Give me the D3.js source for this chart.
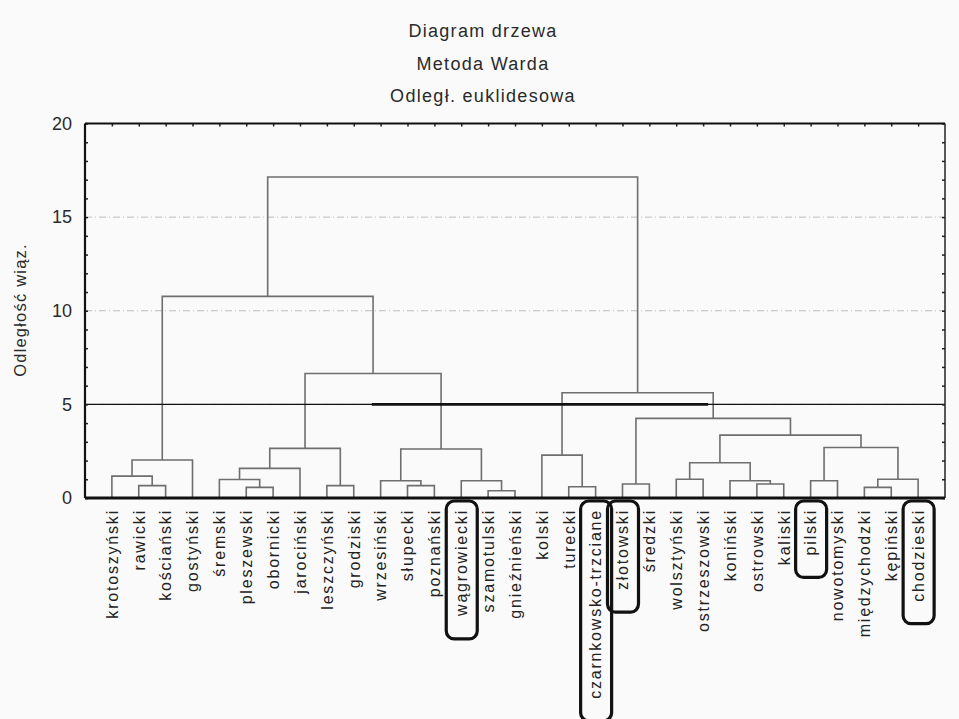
<!DOCTYPE html>
<html>
<head>
<meta charset="utf-8">
<script src="https://cdn.jsdelivr.net/npm/d3@7"></script>
<style>
  body { margin: 0; background: #fafafa; }
  svg { display: block; font-family: "Liberation Sans", Arial, sans-serif; }
</style>
</head>
<body>
<div id="chart"></div>
<script>
// titles
const titleLines = ["Diagram drzewa", "Metoda Warda", "Odległ. euklidesowa"];
const yLabelText = "Odległość wiąz.";

// leaves in dendrogram order
const leaves = ["krotoszyński", "rawicki", "kościański", "gostyński", "śremski",
  "pleszewski", "obornicki", "jarociński", "leszczyński", "grodziski",
  "wrzesiński", "słupecki", "poznański", "wągrowiecki", "szamotulski",
  "gnieźnieński", "kolski", "turecki", "czarnkowsko-trzciane", "złotowski",
  "średzki", "wolsztyński", "ostrzeszowski", "koniński", "ostrowski",
  "kaliski", "pilski", "nowotomyski", "międzychodzki", "kępiński", "chodzieski"];

// merges: [left, right, linkage distance]; numbers refer to earlier merges
const merges = [
  ["rawicki", "kościański", 0.66],        // 0
  ["krotoszyński", 0, 1.17],              // 1
  [1, "gostyński", 2.03],                 // 2
  ["pleszewski", "obornicki", 0.57],      // 3
  ["śremski", 3, 0.99],                   // 4
  [4, "jarociński", 1.58],                // 5
  ["leszczyński", "grodziski", 0.66],     // 6
  [5, 6, 2.65],                           // 7
  ["słupecki", "poznański", 0.66],        // 8
  ["wrzesiński", 8, 0.92],                // 9
  ["szamotulski", "gnieźnieński", 0.39],  // 10
  ["wągrowiecki", 10, 0.92],              // 11
  [9, 11, 2.62],                          // 12
  [7, 12, 6.65],                          // 13
  [2, 13, 10.77],                         // 14
  ["turecki", "czarnkowsko-trzciane", 0.6], // 15
  ["kolski", 15, 2.29],                   // 16
  ["złotowski", "średzki", 0.75],         // 17
  ["wolsztyński", "ostrzeszowski", 1.0],  // 18
  ["ostrowski", "kaliski", 0.75],         // 19
  ["koniński", 19, 0.92],                 // 20
  [18, 20, 1.88],                         // 21
  ["pilski", "nowotomyski", 0.92],        // 22
  ["międzychodzki", "kępiński", 0.57],    // 23
  [23, "chodzieski", 1.0],                // 24
  [22, 24, 2.7],                          // 25
  [21, 25, 3.36],                         // 26
  [17, 26, 4.25],                         // 27
  [16, 27, 5.62],                         // 28
  [14, 28, 17.14]                         // 29
];

// cut level and the circled units
const cutLevel = 5;
const cutBold = ["grodziski", "ostrzeszowski"];
const circled = ["wągrowiecki", "czarnkowsko-trzciane", "złotowski", "pilski", "chodzieski"];

const yTicks = [0, 5, 10, 15, 20];
const gridTicks = [5, 10, 15];

// layout
const W = 959, H = 719;
const margin = { left: 85, right: 14, top: 123.5, bottom: 221 };
const width = W - margin.left - margin.right;
const height = H - margin.top - margin.bottom;

const svg = d3.select("#chart").append("svg")
  .attr("width", W)
  .attr("height", H);

// titles
svg.selectAll("text.title")
  .data(titleLines)
  .enter().append("text")
    .attr("class", "title")
    .attr("x", 483)
    .attr("y", (d, i) => 37 + i * 32.5)
    .attr("text-anchor", "middle")
    .attr("font-size", "18px")
    .attr("letter-spacing", "1.3px")
    .attr("fill", "#2a2a2a")
    .text(d => d);

const g = svg.append("g")
  .attr("transform", "translate(" + margin.left + "," + margin.top + ")");

// scales
const x = d3.scalePoint().domain(leaves).range([0, width]).padding(1);
const y = d3.scaleLinear().domain([0, 20]).range([height, 0]);

// grid lines (dash-dot)
g.selectAll("line.grid")
  .data(gridTicks)
  .enter().append("line")
    .attr("class", "grid")
    .attr("x1", 0).attr("x2", width)
    .attr("y1", d => y(d)).attr("y2", d => y(d))
    .attr("stroke", "#bdbdbd")
    .attr("stroke-width", 1)
    .attr("stroke-dasharray", "7,3,1,3");

// build node positions
const nodes = merges.map(() => null);
function pos(ref) {
  if (typeof ref === "string") return { x: x(ref), h: 0 };
  return nodes[ref];
}
const links = [];
merges.forEach(function(m, i) {
  const a = pos(m[0]), b = pos(m[1]);
  nodes[i] = { x: (a.x + b.x) / 2, h: m[2] };
  links.push({ a: a, b: b, h: m[2] });
});

// dendrogram
g.selectAll("path.link")
  .data(links)
  .enter().append("path")
    .attr("class", "link")
    .attr("fill", "none")
    .attr("stroke", "#6e6e6e")
    .attr("stroke-width", 1.6)
    .attr("d", d => "M" + d.a.x + "," + y(d.a.h) + "V" + y(d.h) +
      "H" + d.b.x + "V" + y(d.b.h));

// cut line
g.append("line")
  .attr("x1", 0).attr("x2", width)
  .attr("y1", y(cutLevel)).attr("y2", y(cutLevel))
  .attr("stroke", "#111")
  .attr("stroke-width", 1.3);
g.append("line")
  .attr("x1", x(cutBold[0]) + 18).attr("x2", x(cutBold[1]) + 5)
  .attr("y1", y(cutLevel)).attr("y2", y(cutLevel))
  .attr("stroke", "#111")
  .attr("stroke-width", 2.6);

// minor ticks inside the frame
const minor = d3.range(0, 21, 1);
g.append("g")
  .call(d3.axisLeft(y).tickValues(minor).tickSize(-3).tickFormat(""))
  .call(s => s.select(".domain").remove())
  .selectAll("line").attr("stroke", "#222").attr("stroke-width", 1.5);
g.append("g")
  .attr("transform", "translate(" + width + ",0)")
  .call(d3.axisRight(y).tickValues(minor).tickSize(-3).tickFormat(""))
  .call(s => s.select(".domain").remove())
  .selectAll("line").attr("stroke", "#222").attr("stroke-width", 1.5);
g.append("g")
  .call(d3.axisTop(x).tickSize(-3).tickFormat(""))
  .call(s => s.select(".domain").remove())
  .selectAll("line").attr("stroke", "#222").attr("stroke-width", 1.5);

// y tick labels
const yAxis = g.append("g")
  .call(d3.axisLeft(y).tickValues(yTicks).tickSize(0).tickPadding(13));
yAxis.select(".domain").remove();
yAxis.selectAll("text")
  .attr("font-size", "18px")
  .attr("font-family", "Liberation Sans, Arial, sans-serif")
  .attr("fill", "#2a2a2a");

// frame
g.append("line").attr("x1", width).attr("x2", width).attr("y1", 0).attr("y2", height)
  .attr("stroke", "#222").attr("stroke-width", 1.5);
g.append("line").attr("x1", 0).attr("x2", width).attr("y1", 0).attr("y2", 0)
  .attr("stroke", "#111").attr("stroke-width", 2.2);
g.append("line").attr("x1", 0).attr("x2", 0).attr("y1", 0).attr("y2", height)
  .attr("stroke", "#111").attr("stroke-width", 2.2);
g.append("line").attr("x1", 0).attr("x2", width).attr("y1", height).attr("y2", height)
  .attr("stroke", "#111").attr("stroke-width", 3);

// y axis title
svg.append("text")
  .attr("transform", "translate(26,310) rotate(-90)")
  .attr("text-anchor", "middle")
  .attr("font-size", "16.5px")
  .attr("letter-spacing", "1.2px")
  .attr("fill", "#2a2a2a")
  .text(yLabelText);

// leaf labels
const labels = g.selectAll("g.leaf")
  .data(leaves)
  .enter().append("g")
    .attr("class", "leaf")
    .attr("transform", d => "translate(" + x(d) + "," + (height + 11) + ") rotate(-90)");

labels.append("text")
  .attr("text-anchor", "end")
  .attr("dy", "0.36em")
  .attr("font-size", "16px")
  .attr("letter-spacing", "1.8px")
  .attr("fill", "#222")
  .text(d => d);

// hand-drawn boxes round the circled units
labels.filter(d => circled.includes(d)).each(function() {
  const grp = d3.select(this);
  const bb = grp.select("text").node().getBBox();
  grp.insert("rect", "text")
    .attr("x", bb.x - 22)
    .attr("y", -15)
    .attr("width", bb.width + 30)
    .attr("height", 31)
    .attr("rx", 8)
    .attr("fill", "none")
    .attr("stroke", "#111")
    .attr("stroke-width", 3.2);
});
</script>
</body>
</html>
